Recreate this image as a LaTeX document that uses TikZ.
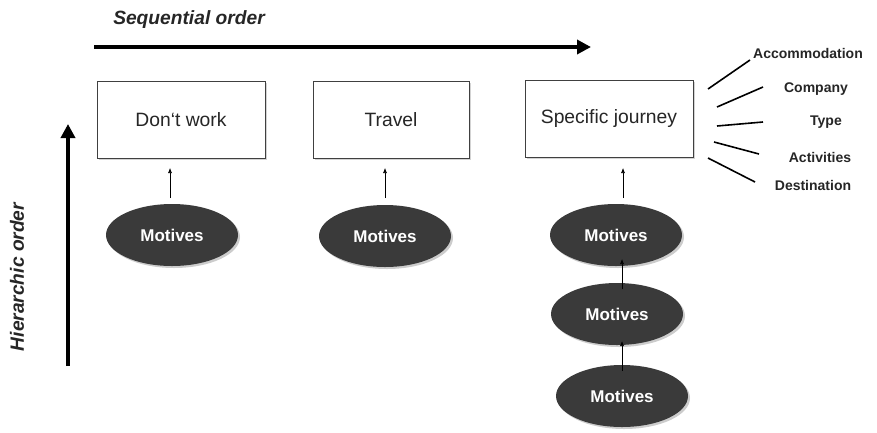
\documentclass[tikz,border=0pt]{standalone}
\usepackage{fontspec}
\setmainfont{Liberation Sans}
\usetikzlibrary{arrows.meta,shadows,shapes.geometric}
\definecolor{ovalfill}{HTML}{3A3A3A}
\tikzset{
  stagebox/.style={draw=black!75, line width=0.8pt, fill=white, minimum width=168pt, minimum height=77pt, inner sep=0pt,
    font=\fontsize{19.3}{21}\selectfont, text=black!85, drop shadow={shadow xshift=1.5pt, shadow yshift=-1.5pt, opacity=0.35}},
  motive/.style={ellipse, fill=ovalfill, minimum width=132pt, minimum height=62pt, inner sep=0pt, text=white,
    font=\fontsize{17}{18}\selectfont\bfseries, drop shadow={shadow xshift=2pt, shadow yshift=-2pt, opacity=0.4}},
  attr/.style={font=\fontsize{14}{16}\selectfont\bfseries, text=black!85, inner sep=0pt},
  axislabel/.style={font=\fontsize{19.2}{21}\selectfont\bfseries\itshape, text=black!85, inner sep=0pt},
  bigarrow/.style={line width=4pt, -{Triangle[length=14pt,width=14pt]}},
  smallarrow/.style={line width=0.6pt, -{Latex[length=5pt,width=4pt]}},
  attrline/.style={line width=1.6pt}
}
\begin{document}
\begin{tikzpicture}[x=1pt,y=-1pt]
\useasboundingbox (0,0) rectangle (877,432);
% axes
\node[axislabel] (seq) at (189,20) {Sequential order};
\coordinate (hs) at (94,47);
\coordinate (he) at (591,47);
\draw[bigarrow] (hs) -- (he);
\node[axislabel, rotate=90] (hier) at (17,277) {Hierarchic order};
\coordinate (vs) at (68,366);
\coordinate (ve) at (68,124);
\draw[bigarrow] (vs) -- (ve);
% boxes
\node[stagebox] (b1) at (181,119.5) {Don‘t work};
\node[stagebox, minimum width=156pt] (b2) at (391,119.5) {Travel};
\node[stagebox] (b3) at (609,119) {Specific journey};
% motives
\node[motive] (m1) at (172,235) {Motives};
\node[motive] (m2) at (385,236) {Motives};
\node[motive] (m3) at (616,235) {Motives};
\node[motive] (m4) at (617,314) {Motives};
\node[motive] (m5) at (622,396) {Motives};
\coordinate (a1s) at (170,198); \coordinate (a1e) at (170,168);
\coordinate (a2s) at (385,198); \coordinate (a2e) at (385,168);
\coordinate (a3s) at (623,198); \coordinate (a3e) at (623,168);
\draw[smallarrow] (a1s) -- (a1e);
\draw[smallarrow] (a2s) -- (a2e);
\draw[smallarrow] (a3s) -- (a3e);
\coordinate (a4s) at (622,289); \coordinate (a4e) at (622,259);
\coordinate (a5s) at (622,371); \coordinate (a5e) at (622,341);
\draw[smallarrow] (a4s) -- (a4e);
\draw[smallarrow] (a5s) -- (a5e);
% attributes
\node[attr] (t1) at (808,53) {Accommodation};
\node[attr] (t2) at (816,89) {Company};
\node[attr] (t3) at (826,122) {Type};
\node[attr] (t4) at (820,157) {Activities};
\node[attr] (t5) at (813,185) {Destination};
\coordinate (l1s) at (708,89);  \coordinate (l1e) at (750,60);
\coordinate (l2s) at (717,107); \coordinate (l2e) at (763,87);
\coordinate (l3s) at (717,126); \coordinate (l3e) at (763,122);
\coordinate (l4s) at (714,142); \coordinate (l4e) at (759,154);
\coordinate (l5s) at (708,158); \coordinate (l5e) at (755,182);
\draw[attrline] (l1s) -- (l1e);
\draw[attrline] (l2s) -- (l2e);
\draw[attrline] (l3s) -- (l3e);
\draw[attrline] (l4s) -- (l4e);
\draw[attrline] (l5s) -- (l5e);
\end{tikzpicture}
\end{document}
